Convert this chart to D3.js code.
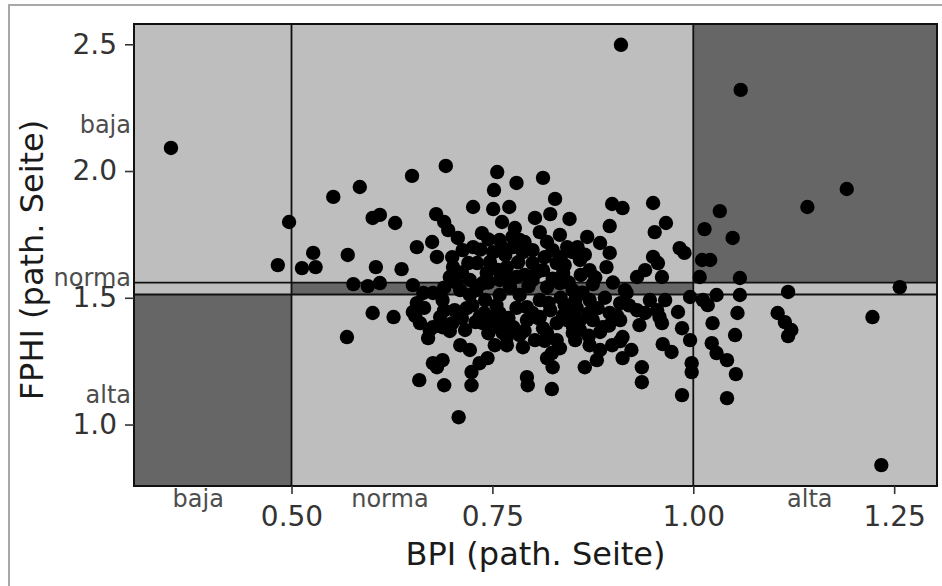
<!DOCTYPE html>
<html lang="en">
<head>
    <meta charset="UTF-8">
    <title>BPI vs FPHI</title>
    <script src="https://d3js.org/d3.v7.min.js"></script>
    <style>
        body { margin: 0; background: #fff; }
        svg { display: block; font-family: "DejaVu Sans", sans-serif; }
        .tick text { fill: #333; font-size: 28px; }
        .tick line { stroke: #333; stroke-width: 1.6; }
        .cat { fill: #4d4d4d; font-size: 24px; }
        .title { fill: #1a1a1a; font-size: 32px; }
    </style>
</head>
<body>
<script>
    // BPI (x) and FPHI (y) per patient
    const bpi = [
        0.350, 0.910, 1.059, 1.234, 1.191, 1.142, 1.257, 1.223, 1.118, 1.105, 1.114, 1.122, 1.118,
        0.497, 0.483, 0.513, 0.527, 0.530, 0.552, 0.585, 0.650, 0.692, 0.756, 0.752, 0.780, 0.813,
        0.726, 0.751, 0.771, 0.601, 0.610, 0.629, 0.680, 0.690, 0.695, 0.762, 0.570, 0.605, 0.637,
        0.675, 0.656, 0.681, 0.577, 0.595, 0.610, 0.651, 0.601, 0.627, 0.654, 0.569, 0.660, 0.672,
        0.670, 0.688, 0.697, 0.718, 0.734, 0.751, 0.759, 0.768, 0.722, 0.744, 0.676, 0.688, 0.724,
        0.724, 0.659, 0.690, 0.708, 0.794, 0.824, 0.818, 0.825, 0.865, 0.880, 0.912, 0.936, 0.936,
        0.986, 0.998, 0.998, 0.962, 0.973, 0.986, 0.996, 0.981, 0.768, 0.784, 0.807, 0.813, 0.834,
        0.859, 0.884, 0.912, 0.923, 1.024, 1.023, 1.029, 1.042, 1.052, 1.055, 1.058, 1.029, 1.018,
        1.012, 0.996, 1.053, 1.042, 1.033, 1.014, 1.049, 0.950, 0.966, 0.952, 0.983, 0.989, 0.950,
        0.956, 0.961, 1.011, 1.021, 1.008, 1.058, 0.828, 0.803, 0.822, 0.846, 0.899, 0.912, 0.896,
        0.868, 0.896, 0.930, 0.940, 0.875, 0.892, 0.856, 0.884, 0.915, 0.958, 0.955, 0.930, 0.940,
        0.961, 0.917, 0.909, 0.896, 0.881, 0.887, 0.875, 0.859, 0.850, 0.909, 0.707, 0.737, 0.778,
        0.713, 0.726, 0.701, 0.697, 0.759, 0.751, 0.731, 0.743, 0.776, 0.788, 0.800, 0.818, 0.825,
        0.843, 0.850, 0.800, 0.813, 0.830, 0.838, 0.768, 0.780, 0.722, 0.738, 0.759, 0.772, 0.800,
        0.818, 0.834, 0.850, 0.664, 0.676, 0.688, 0.651, 0.656, 0.685, 0.676, 0.729, 0.738, 0.747,
        0.763, 0.776, 0.793, 0.793, 0.809, 0.822, 0.830, 0.843, 0.850, 0.818, 0.830, 0.824, 0.788,
        0.734, 0.681, 0.853, 0.793, 0.784, 0.809, 0.834, 0.859, 0.871, 0.871, 0.853, 0.840, 0.809,
        0.784, 0.759, 0.741, 0.722, 0.710, 0.703, 0.716, 0.710, 0.753, 0.803, 0.871, 0.884, 0.899,
        0.840, 0.790, 0.747, 0.720, 0.766, 0.946, 0.965, 0.933, 0.909,
        0.700, 0.712, 0.735, 0.745, 0.757, 0.762, 0.770, 0.782, 0.795, 0.805, 0.815, 0.825, 0.835,
        0.845, 0.860, 0.862, 0.878, 0.890, 0.900, 0.905, 0.920, 0.870, 0.855, 0.838, 0.820, 0.800,
        0.780, 0.770, 0.755, 0.740, 0.725, 0.712, 0.700, 0.690, 0.745, 0.760, 0.790, 0.815, 0.850,
        0.870, 0.895, 0.705, 0.690, 0.665, 0.730, 0.790, 0.835, 0.865, 0.775, 0.745
    ];
    const fphi = [
        2.091, 2.498, 2.320, 0.840, 1.929, 1.858, 1.542, 1.424, 1.523, 1.440, 1.404, 1.373, 1.349,
        1.799, 1.629, 1.617, 1.677, 1.621, 1.898, 1.937, 1.981, 2.020, 1.996, 1.925, 1.953, 1.973,
        1.858, 1.850, 1.858, 1.815, 1.827, 1.795, 1.830, 1.799, 1.767, 1.799, 1.669, 1.621, 1.613,
        1.720, 1.700, 1.661, 1.554, 1.546, 1.558, 1.550, 1.440, 1.424, 1.428, 1.345, 1.400, 1.373,
        1.341, 1.384, 1.369, 1.459, 1.424, 1.384, 1.440, 1.345, 1.294, 1.262, 1.242, 1.254, 1.207,
        1.155, 1.175, 1.155, 1.029, 1.155, 1.140, 1.262, 1.226, 1.226, 1.254, 1.262, 1.226, 1.167,
        1.116, 1.242, 1.207, 1.317, 1.286, 1.380, 1.333, 1.444, 1.313, 1.353, 1.420, 1.380, 1.301,
        1.373, 1.365, 1.345, 1.294, 1.400, 1.321, 1.282, 1.254, 1.353, 1.440, 1.511, 1.511, 1.471,
        1.491, 1.503, 1.199, 1.104, 1.842, 1.771, 1.736, 1.874, 1.795, 1.759, 1.696, 1.677, 1.661,
        1.637, 1.582, 1.649, 1.649, 1.582, 1.578, 1.890, 1.815, 1.830, 1.811, 1.870, 1.854, 1.783,
        1.740, 1.677, 1.582, 1.609, 1.554, 1.621, 1.700, 1.716, 1.530, 1.424, 1.451, 1.451, 1.440,
        1.400, 1.519, 1.479, 1.440, 1.459, 1.384, 1.412, 1.412, 1.361, 1.329, 1.736, 1.755, 1.775,
        1.688, 1.700, 1.621, 1.582, 1.728, 1.680, 1.637, 1.598, 1.700, 1.680, 1.688, 1.720, 1.688,
        1.700, 1.680, 1.637, 1.609, 1.637, 1.598, 1.621, 1.582, 1.570, 1.558, 1.570, 1.542, 1.570,
        1.542, 1.558, 1.530, 1.519, 1.519, 1.491, 1.444, 1.479, 1.424, 1.384, 1.404, 1.400, 1.424,
        1.361, 1.384, 1.463, 1.412, 1.424, 1.451, 1.400, 1.412, 1.440, 1.361, 1.333, 1.282, 1.305,
        1.242, 1.226, 1.333, 1.187, 1.728, 1.759, 1.748, 1.649, 1.609, 1.491, 1.491, 1.471, 1.491,
        1.511, 1.511, 1.491, 1.511, 1.530, 1.451, 1.373, 1.313, 1.313, 1.333, 1.313, 1.294, 1.313,
        1.629, 1.590, 1.641, 1.637, 1.669, 1.491, 1.491, 1.392, 1.412,
        1.660, 1.600, 1.690, 1.560, 1.610, 1.700, 1.580, 1.640, 1.545, 1.600, 1.660, 1.575, 1.500,
        1.560, 1.590, 1.520, 1.580, 1.500, 1.560, 1.430, 1.470, 1.440, 1.460, 1.430, 1.480, 1.440,
        1.460, 1.420, 1.470, 1.440, 1.470, 1.420, 1.400, 1.450, 1.360, 1.400, 1.370, 1.330, 1.390,
        1.350, 1.390, 1.560, 1.540, 1.460, 1.530, 1.720, 1.660, 1.670, 1.740, 1.730
    ];

    // cut-offs splitting both indices into baja / norma / alta
    const xCuts = [0.5, 1.0];
    const yCuts = [1.513, 1.56];
    const catNames = ["baja", "norma", "alta"];
    const xCatPos = [0.384, 0.6225, 1.145];
    const yCatPos = [2.15, 1.545, 1.084];

    const xTicks = [0.5, 0.75, 1.0, 1.25];
    const yTicks = [1.0, 1.5, 2.0, 2.5];
    const xDomain = [0.304, 1.3033];
    const yDomain = [0.7575, 2.58];

    const W = 942, H = 586;
    const margin = {top: 24, right: 5, bottom: 100, left: 134};
    const width = W - margin.left - margin.right;
    const height = H - margin.top - margin.bottom;

    const svg = d3.select("body").append("svg")
        .attr("width", W)
        .attr("height", H);

    // faint outer frame of the figure
    svg.append("rect")
        .attr("x", 9).attr("y", 5)
        .attr("width", W).attr("height", H)
        .attr("fill", "none")
        .attr("stroke", "#a8a8a8")
        .attr("stroke-width", 2);

    const g = svg.append("g")
        .attr("transform", `translate(${margin.left},${margin.top})`);

    const x = d3.scaleLinear().domain(xDomain).range([0, width]);
    const y = d3.scaleLinear().domain(yDomain).range([height, 0]);

    // zones: 3x3 grid, dark where the two classes line up diagonally
    const xEdges = [xDomain[0], ...xCuts, xDomain[1]];
    const yEdges = [yDomain[0], ...yCuts, yDomain[1]];
    const zones = [];
    for (let i = 0; i < 3; i++) {
        for (let j = 0; j < 3; j++) {
            zones.push({x0: xEdges[i], x1: xEdges[i + 1], y0: yEdges[j], y1: yEdges[j + 1], dark: i === j});
        }
    }

    g.selectAll(".zone")
        .data(zones)
        .enter()
        .append("rect")
        .attr("class", "zone")
        .attr("x", d => x(d.x0))
        .attr("y", d => y(d.y1))
        .attr("width", d => x(d.x1) - x(d.x0))
        .attr("height", d => y(d.y0) - y(d.y1))
        .attr("fill", d => d.dark ? "#666666" : "#bebebe");

    g.selectAll(".vcut")
        .data(xCuts)
        .enter()
        .append("line")
        .attr("x1", d => x(d)).attr("x2", d => x(d))
        .attr("y1", 0).attr("y2", height)
        .attr("stroke", "#111")
        .attr("stroke-width", 1.8);

    g.selectAll(".hcut")
        .data(yCuts)
        .enter()
        .append("line")
        .attr("x1", 0).attr("x2", width)
        .attr("y1", d => y(d)).attr("y2", d => y(d))
        .attr("stroke", "#111")
        .attr("stroke-width", 1.8);

    // points
    g.selectAll(".dot")
        .data(bpi.map((b, i) => ({b, f: fphi[i]})))
        .enter()
        .append("circle")
        .attr("cx", d => x(d.b))
        .attr("cy", d => y(d.f))
        .attr("r", 7.2)
        .attr("fill", "#000");

    // panel border
    g.append("rect")
        .attr("width", width).attr("height", height)
        .attr("fill", "none")
        .attr("stroke", "#111")
        .attr("stroke-width", 2);

    // axes
    const xAxis = g.append("g")
        .attr("transform", `translate(0,${height})`)
        .call(d3.axisBottom(x).tickValues(xTicks).tickFormat(d3.format(".2f")).tickSize(8).tickPadding(12));
    const yAxis = g.append("g")
        .call(d3.axisLeft(y).tickValues(yTicks).tickFormat(d3.format(".1f")).tickSize(9).tickPadding(8));
    [xAxis, yAxis].forEach(a => {
        a.attr("font-family", null).attr("font-size", null);
        a.select(".domain").remove();
    });

    // class labels
    g.selectAll(".xcat")
        .data(catNames)
        .enter()
        .append("text")
        .attr("class", "cat")
        .attr("x", (d, i) => x(xCatPos[i]))
        .attr("y", height + 21)
        .attr("text-anchor", "middle")
        .text(d => d);

    g.selectAll(".ycat")
        .data(catNames)
        .enter()
        .append("text")
        .attr("class", "cat")
        .attr("x", -3)
        .attr("y", (d, i) => y(yCatPos[i]))
        .attr("text-anchor", "end")
        .text(d => d);

    // axis titles
    g.append("text")
        .attr("class", "title")
        .attr("x", width / 2)
        .attr("y", height + 79)
        .attr("text-anchor", "middle")
        .text("BPI (path. Seite)");

    g.append("text")
        .attr("class", "title")
        .attr("transform", `translate(${43 - margin.left},${height / 2 + 5}) rotate(-90)`)
        .attr("text-anchor", "middle")
        .text("FPHI (path. Seite)");
</script>
</body>
</html>
